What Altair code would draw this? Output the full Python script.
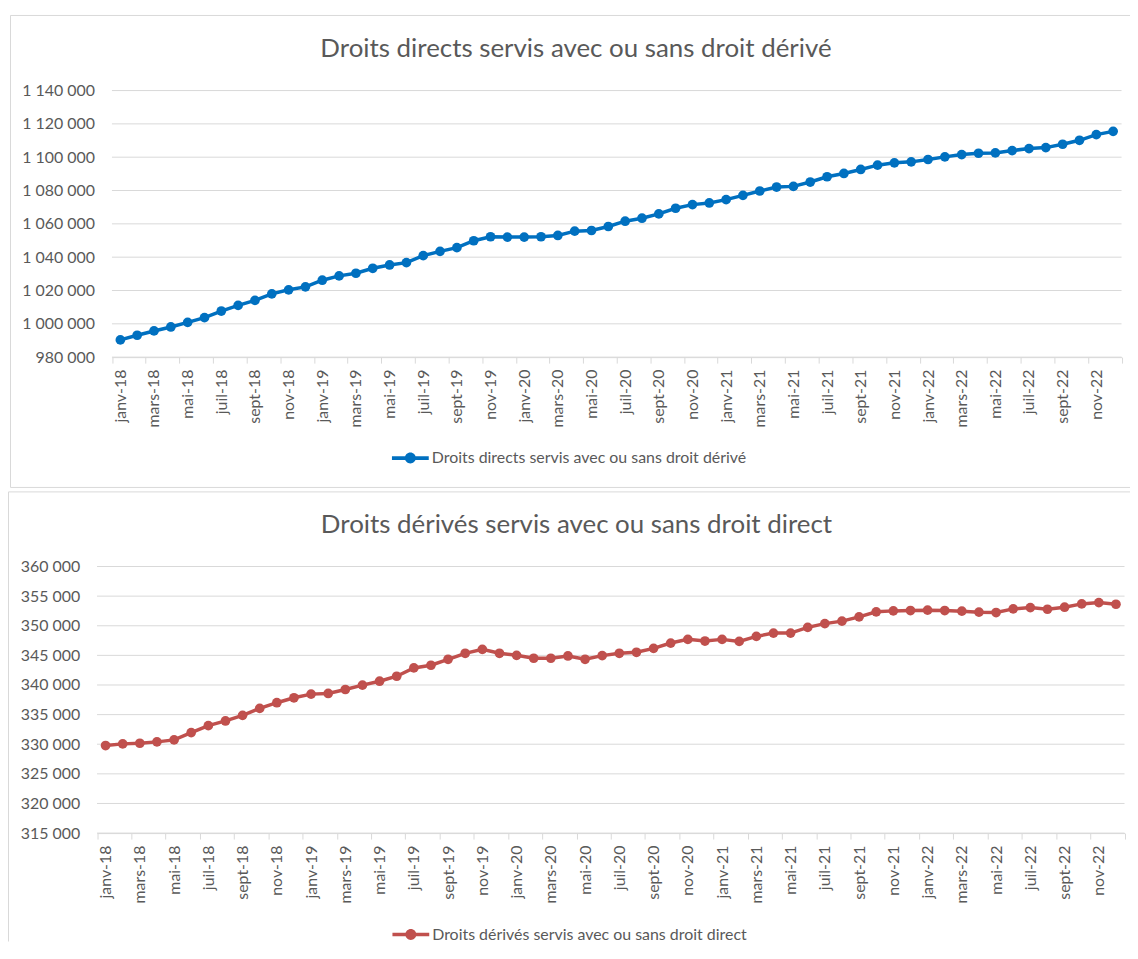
import altair as alt
import pandas as pd

# ---------------- data ----------------
mois = [
    "janv-18", "févr-18", "mars-18", "avr-18", "mai-18", "juin-18", "juil-18", "août-18", "sept-18", "oct-18", "nov-18", "déc-18",
    "janv-19", "févr-19", "mars-19", "avr-19", "mai-19", "juin-19", "juil-19", "août-19", "sept-19", "oct-19", "nov-19", "déc-19",
    "janv-20", "févr-20", "mars-20", "avr-20", "mai-20", "juin-20", "juil-20", "août-20", "sept-20", "oct-20", "nov-20", "déc-20",
    "janv-21", "févr-21", "mars-21", "avr-21", "mai-21", "juin-21", "juil-21", "août-21", "sept-21", "oct-21", "nov-21", "déc-21",
    "janv-22", "févr-22", "mars-22", "avr-22", "mai-22", "juin-22", "juil-22", "août-22", "sept-22", "oct-22", "nov-22", "déc-22",
]

droits_directs = [
    990350, 993130, 995720, 998110, 1000900, 1003680, 1007660, 1011040, 1014030, 1018010,
    1020400, 1022190, 1026170, 1028760, 1030350, 1033330, 1035320, 1036720, 1040900, 1043480,
    1045700, 1049850, 1052240, 1052040, 1052040, 1052240, 1053030, 1055620, 1056020, 1058410,
    1061590, 1063380, 1065970, 1069350, 1071540, 1072540, 1074530, 1077110, 1079700, 1082090,
    1082490, 1085100, 1088260, 1090250, 1092640, 1095220, 1096620, 1097210, 1098610, 1100200,
    1101590, 1102390, 1102590, 1103980, 1105170, 1105770, 1107760, 1110150, 1113530, 1115520,
]

droits_derives = [
    329780, 330060, 330170, 330400, 330730, 331970, 333140, 333930, 334880, 336050,
    337010, 337840, 338460, 338570, 339240, 339970, 340640, 341480, 342880, 343330,
    344340, 345350, 346020, 345350, 345010, 344510, 344510, 344900, 344340, 344960,
    345350, 345520, 346190, 347080, 347700, 347420, 347700, 347360, 348200, 348760,
    348760, 349720, 350360, 350780, 351500, 352350, 352510, 352570, 352630, 352570,
    352460, 352290, 352230, 352850, 353070, 352790, 353130, 353690, 353910, 353630,
]

serie_directs = "Droits directs servis avec ou sans droit dérivé"
serie_derives = "Droits dérivés servis avec ou sans droit direct"

ticks_directs = [980000, 1000000, 1020000, 1040000, 1060000, 1080000, 1100000, 1120000, 1140000]
ticks_derives = [315000, 320000, 325000, 330000, 335000, 340000, 345000, 350000, 355000, 360000]

# ---------------- style / layout ----------------
FONT = "Lato"
GRID = "#d9d9d9"
TXT = "#595959"
W, H = 1128, 936
LEGEND_PATH = ("M-1.85,-0.18 L1.85,-0.18 L1.85,0.18 L-1.85,0.18 Z "
               "M-0.55,0 A0.55,0.55 0 1,1 0.55,0 A0.55,0.55 0 1,1 -0.55,0 Z")

n = len(mois)
label_array = "[" + ",".join("'" + m + "'" for m in mois) + "]"
x_values = []
for i in range(0, n, 2):
    x_values += [i - 0.5, i]
x_values.append(n - 0.5)


def panel(values, serie, color, y_ticks, plot, frame, title_pos, legend_pos):
    x0, x1, y0, y1 = plot  # plot rectangle (left, right, top, bottom)
    df = pd.DataFrame({"idx": list(range(n)), "valeur": values, "serie": serie})
    x_scale = alt.Scale(domain=[-0.5, n - 0.5], range=[x0, x1], nice=False, zero=False)
    y_scale = alt.Scale(domain=[y_ticks[0], y_ticks[-1]], range=[y1, y0], nice=False, zero=False)
    x_enc = alt.X(
        "idx:Q",
        scale=x_scale,
        axis=alt.Axis(
            orient="bottom",
            offset=y1 - H,
            values=x_values,
            labelExpr="datum.value % 2 == 0 ? " + label_array + "[datum.value] : ''",
            labelAngle=-90,
            labelAlign="right",
            labelBaseline="middle",
            labelFont=FONT,
            labelFontSize=16,
            labelColor=TXT,
            labelOverlap=False,
            labelFlush=False,
            labelPadding=6,
            tickSize=6,
            tickColor=GRID,
            tickOpacity={"condition": {"test": "datum.value % 1 != 0", "value": 1}, "value": 0},
            domainColor=GRID,
            domainWidth=1,
            grid=False,
        ),
        title=None,
    )
    y_enc = alt.Y(
        "valeur:Q",
        scale=y_scale,
        axis=alt.Axis(
            orient="left",
            offset=-x0,
            values=y_ticks,
            labelExpr="replace(replace(format(datum.value, ',d'), ',', ' '), ',', ' ')",
            labelFont=FONT,
            labelFontSize=16,
            labelColor=TXT,
            labelPadding=17.5,
            labelFlush=False,
            labelOverlap=False,
            ticks=False,
            domain=False,
            grid=False,
        ),
        title=None,
    )
    grid_df = pd.DataFrame({"valeur": y_ticks})
    grid = alt.Chart(grid_df).mark_rule(color=GRID, strokeWidth=1).encode(
        y=y_enc, x=alt.value(x0), x2=alt.value(x1),
    )
    base = alt.Chart(df)
    line = base.mark_line(color=color, strokeWidth=3.5).encode(x=x_enc, y=y_enc)
    points = base.mark_circle(size=95, opacity=1).encode(
        x=x_enc,
        y=y_enc,
        color=alt.Color(
            "serie:N",
            scale=alt.Scale(domain=[serie], range=[color]),
            legend=alt.Legend(
                orient="none",
                legendX=legend_pos[0],
                legendY=legend_pos[1],
                title=None,
                symbolType=LEGEND_PATH,
                symbolSize=400,
                symbolStrokeWidth=0,
                symbolOpacity=1,
                labelFont=FONT,
                labelFontSize=16,
                labelColor=TXT,
                labelOffset=11.5,
                labelLimit=0,
                padding=0,
            ),
        ),
    )
    deco = alt.Chart(pd.DataFrame({"titre": [serie]}))
    left, right, top, bottom, draw_bottom = frame
    rules = [
        deco.mark_rule(color=GRID, strokeWidth=1).encode(
            x=alt.value(left), y=alt.value(top), y2=alt.value(bottom)),
        deco.mark_rule(color=GRID, strokeWidth=1).encode(
            x=alt.value(left), x2=alt.value(right), y=alt.value(top)),
    ]
    if draw_bottom:
        rules.append(deco.mark_rule(color=GRID, strokeWidth=1).encode(
            x=alt.value(left), x2=alt.value(right), y=alt.value(bottom)))
    title = deco.mark_text(font=FONT, fontSize=26, color=TXT, align="center", baseline="middle").encode(
        x=alt.value(title_pos[0]), y=alt.value(title_pos[1]), text="titre:N")
    return alt.layer(*rules, title, grid, line, points)


top = panel(droits_directs, serie_directs, "#0070C0", ticks_directs,
            (104.5, 1119.5, 80.5, 348.5), (2.5, W, 5, 479.5, True), (571, 39), (394.5, 440))
bottom = panel(droits_derives, serie_derives, "#C0504D", ticks_derives,
               (89.5, 1122.5, 559, 827), (0.5, W, 484, H, False), (571.5, 517), (395, 919))

chart = alt.layer(top, bottom).resolve_scale(
    x="independent", y="independent", color="independent"
).resolve_axis(x="independent", y="independent").resolve_legend(color="independent").properties(
    width=W, height=H, padding=0, autosize=alt.AutoSizeParams(type="none")
).configure_view(stroke=None)

chart.save("out.html", embed_options={"renderer": "svg", "actions": False})
